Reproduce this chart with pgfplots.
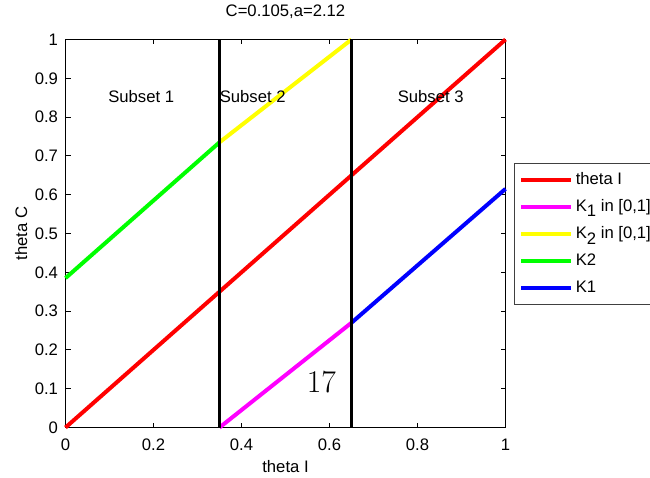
\documentclass[border=0pt]{standalone}
\usepackage{fontspec}
\setmainfont{Liberation Sans}
\usepackage{pgfplots}
\pgfplotsset{compat=1.18}
\definecolor{mred}{RGB}{255,0,0}
\definecolor{mmag}{RGB}{255,0,255}
\definecolor{myel}{RGB}{255,255,0}
\definecolor{mgrn}{RGB}{0,255,0}
\definecolor{mblu}{RGB}{0,0,255}
\begin{document}
\begin{tikzpicture}
\useasboundingbox (-39.3pt,-29.7pt) rectangle (350.7pt,256.5pt);
\clip (-39.3pt,-29.7pt) rectangle (350.7pt,256.5pt);
\begin{axis}[
  at={(0pt,0pt)}, anchor=south west,
  scale only axis, width=264pt, height=232.8pt,
  xmin=0, xmax=1, ymin=0, ymax=1,
  clip=false,
  font=\fontsize{10}{12}\selectfont,
  /pgf/number format/assume math mode=true,
  xtick={0,0.2,0.4,0.6,0.8,1},
  xticklabels={0,0.2,0.4,0.6,0.8,1},
  ytick={0,0.1,0.2,0.3,0.4,0.5,0.6,0.7,0.8,0.9,1},
  yticklabels={0,0.1,0.2,0.3,0.4,0.5,0.6,0.7,0.8,0.9,1},
  tick align=inside, major tick length=3pt,
  xtick pos=both, ytick pos=both,
  tick style={black, line width=0.5pt},
  axis line style={black, line width=0.6pt},
  xticklabel style={anchor=base, yshift=-13.5pt},
  yticklabel style={anchor=east, xshift=-1pt},
  title={C=0.105,a=2.12},
  title style={at={(axis description cs:0.5,1.0343)}, anchor=base},
  xlabel={theta I},
  xlabel style={at={(axis description cs:0.5,-0.1147)}, anchor=base},
  ylabel={theta C},
  ylabel style={at={(axis description cs:-0.0875,0.5)}, anchor=base},
  legend style={at={(axis description cs:1.019,0.6825)}, anchor=north west,
    draw=black!75, fill=white, line width=0.5pt,
    font=\fontsize{10}{12}\selectfont,
    inner xsep=3pt, inner ysep=4pt, row sep=4.6pt,
    nodes={inner sep=1.5pt}},
  legend cell align=left,
  legend image code/.code={\draw[#1] (0pt,0pt) -- (30pt,0pt);},
]
\addplot[mred, line width=2.4pt] coordinates {(0,0) (1,1)};
\addlegendentry{theta I}
\addplot[mmag, line width=2.4pt] coordinates {(0.35,0) (0.65,0.27)};
\addlegendentry{K\raisebox{-0.6ex}{1} in [0,1]\hspace{10pt}}
\addplot[myel, line width=2.4pt] coordinates {(0.35,0.735) (0.65,1)};
\addlegendentry{K\raisebox{-0.6ex}{2} in [0,1]\hspace{10pt}}
\addplot[mgrn, line width=2.4pt] coordinates {(0,0.385) (0.35,0.735)};
\addlegendentry{K2}
\addplot[mblu, line width=2.4pt] coordinates {(0.65,0.27) (1,0.615)};
\addlegendentry{K1}
\addplot[black, line width=2pt, forget plot] coordinates {(0.35,0) (0.35,1)};
\addplot[black, line width=2pt, forget plot] coordinates {(0.65,0) (0.65,1)};
\node[font=\fontsize{10}{12}\selectfont] at (axis cs:0.172,0.854) {Subset 1};
\node[font=\fontsize{10}{12}\selectfont, anchor=west, inner sep=0pt] at (axis cs:0.35,0.854) {Subset 2};
\node[font=\fontsize{10}{12}\selectfont] at (axis cs:0.83,0.854) {Subset 3};
\node[font=\fontfamily{lmr}\fontsize{19}{22}\selectfont] at (axis cs:0.5816,0.117) {17};
\end{axis}
\end{tikzpicture}
\end{document}
